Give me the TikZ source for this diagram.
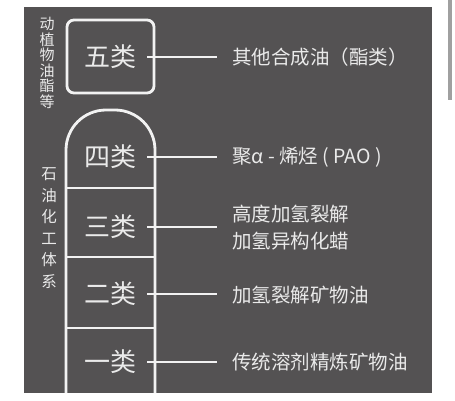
\documentclass[tikz,border=0pt]{standalone}
\usepackage{fontspec}
\setmainfont{Noto Sans CJK SC}
\newfontfamily\cjk{Noto Sans CJK SC}
\definecolor{bgdark}{HTML}{545253}
\definecolor{ink}{HTML}{EAEAEA}
\definecolor{linec}{HTML}{F2F2F2}
\definecolor{barc}{HTML}{A0A0A0}
\begin{document}
\begin{tikzpicture}[x=1pt,y=-1pt,
  frame/.style={draw=linec,line width=2.8pt},
  conn/.style={draw=linec,line width=2.8pt},
  classlbl/.style={text=ink,font=\cjk\fontsize{26}{26}\selectfont,inner sep=0pt},
  desc/.style={text=ink,font=\cjk\fontsize{19.5}{27}\selectfont,anchor=west,inner sep=0pt,align=left},
  vtext/.style={text=ink,inner sep=0pt,align=center}]
\useasboundingbox (0,0) rectangle (455,401);
\fill[white] (0,0) rectangle (455,401);
\fill[bgdark] (24,7) rectangle (432,393);
\fill[barc] (448,0) rectangle (452,100);
% left vertical labels
\node[vtext,font=\cjk\fontsize{15}{15.5}\selectfont] (v1) at (47,63) {动\\植\\物\\油\\酯\\等};
\node[vtext,font=\cjk\fontsize{15.5}{21.5}\selectfont] (v2) at (49,228) {石\\油\\化\\工\\体\\系};
% class 5 box
\draw[frame,rounded corners=7pt] (67,20) rectangle (154,93);
% column
\draw[frame,rounded corners=40pt] (66,393) -- (66,110) -- (155,110) -- (155,393);
\draw[frame] (66,188) -- (155,188);
\draw[frame] (66,257) -- (155,257);
\draw[frame] (66,328) -- (155,328);
% class labels
\node[classlbl] (k5) at (110,57) {五类};
\node[classlbl] (k4) at (110,157) {四类};
\node[classlbl] (k3) at (110,227) {三类};
\node[classlbl] (k2) at (110,294) {二类};
\node[classlbl] (k1) at (110,362) {一类};
% descriptions
\node[desc] (d5) at (232,57) {其他合成油（酯类）};
\node[desc] (d4) at (232,157) {聚α - 烯烃 ( PAO )};
\node[desc] (d3) at (232,228) {高度加氢裂解\\加氢异构化蜡};
\node[desc] (d2) at (232,295) {加氢裂解矿物油};
\node[desc] (d1) at (232,362) {传统溶剂精炼矿物油};
% connectors
\foreach \i/\y in {5/57,4/157,3/227,2/294,1/362}{
  \coordinate (a\i) at (147,\y);
  \coordinate (b\i) at (217,\y);
  \draw[conn] (a\i) -- (b\i);
}
\end{tikzpicture}
\end{document}
